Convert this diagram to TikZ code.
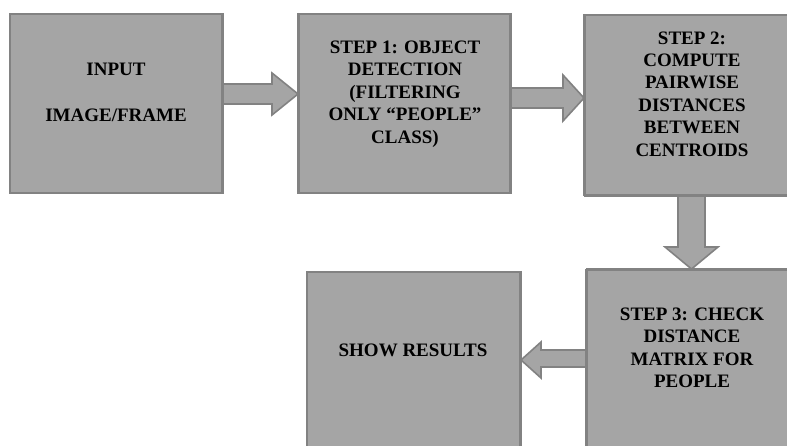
\documentclass[tikz,border=0pt]{standalone}
\usepackage{fontspec}
\setmainfont{Liberation Serif}
\usetikzlibrary{calc}
\definecolor{boxfill}{HTML}{A5A5A5}
\definecolor{boxline}{HTML}{828282}
\tikzset{
  stepbox/.style={draw=boxline, fill=boxfill, line width=2pt, minimum width=#1, inner sep=0pt},
  lbl/.style={align=center, font=\bfseries\fontsize{19}{22.4}\selectfont, text=black, inner sep=0pt},
  blockarrow/.style={draw=boxline, fill=boxfill, line width=1.6pt, line join=miter}
}
\begin{document}
\begin{tikzpicture}[x=1pt,y=-1pt]
\useasboundingbox (0,0) rectangle (787,446);
\clip (0,0) rectangle (787,446);
\fill[white] (0,0) rectangle (787,446);
% boxes
\node[stepbox=212pt, minimum height=179pt] (in) at (116,103.5) {};
\node[stepbox=211pt, minimum height=179pt] (s1) at (404.5,103.5) {};
\node[stepbox=214pt, minimum height=180pt] (s2) at (692,105) {};
\node[stepbox=212pt, minimum height=190pt] (s3) at (693,365) {};
\node[stepbox=213pt, minimum height=188pt] (res) at (413.5,366) {};
% texts
\node[lbl] (tin) at (116,92.5) {INPUT\\[23pt]IMAGE/FRAME};
\node[lbl] (ts1) at (405,94) {STEP 1: OBJECT\\DETECTION\\(FILTERING\\ONLY “PEOPLE”\\CLASS)};
\node[lbl] (ts2) at (692,94) {STEP 2:\\COMPUTE\\PAIRWISE\\DISTANCES\\BETWEEN\\CENTROIDS};
\node[lbl] (ts3) at (692,348) {STEP 3: CHECK\\DISTANCE\\MATRIX FOR\\PEOPLE};
\node[lbl] (tres) at (413,350) {SHOW RESULTS};
% block arrows
% input -> step 1
\draw[blockarrow]
  ($(in.east |- 0,84)$) -- (272,84) -- (272,73) -- ($(s1.west |- 0,94)$) -- (272,115) -- (272,104) -- ($(in.east |- 0,104)$);
% step 1 -> step 2
\draw[blockarrow]
  ($(s1.east |- 0,88)$) -- (563,88) -- (563,75) -- ($(s2.west |- 0,98)$) -- (563,121) -- (563,108) -- ($(s1.east |- 0,108)$);
% step 2 -> step 3
\draw[blockarrow]
  ($(678,0 |- s2.south)$) -- (678,247) -- (665,247) -- ($(691.5,0 |- s3.north)$) -- (718,247) -- (705,247) -- ($(705,0 |- s2.south)$);
% step 3 -> show results
\draw[blockarrow]
  ($(s3.west |- 0,350)$) -- (541,350) -- (541,342) -- ($(res.east |- 0,360)$) -- (541,378) -- (541,367) -- ($(s3.west |- 0,367)$);
% redraw box edges over arrow ends
\draw[boxline, line width=2pt] (in.north east) -- (in.south east);
\draw[boxline, line width=2pt] (s1.north west) -- (s1.south west) (s1.north east) -- (s1.south east);
\draw[boxline, line width=2pt] (s2.north west) -- (s2.south west) (s2.south west) -- (s2.south east);
\draw[boxline, line width=2pt] (s3.north west) -- (s3.north east) (s3.north west) -- (s3.south west);
\draw[boxline, line width=2pt] (res.north east) -- (res.south east);
\end{tikzpicture}
\end{document}
